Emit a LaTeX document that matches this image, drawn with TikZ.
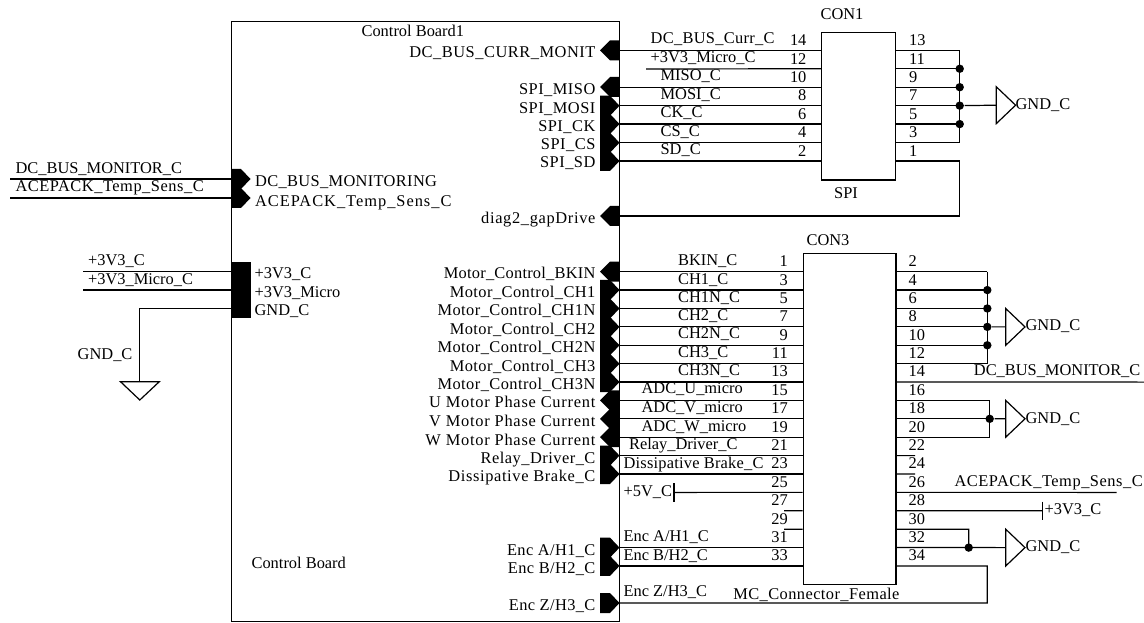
\documentclass[tikz,border=0pt]{standalone}
\usepackage{fontspec}
\setmainfont{Liberation Serif}
\tikzset{
  portin/.pic={\fill (0,0) -- (10,-10) -- (19,-10) -- (19,10) -- (10,10) -- cycle;},
  portout/.pic={\fill (19.5,0) -- (10,-10) -- (0,-10) -- (0,10) -- (10,10) -- cycle;},
  gndr/.pic={\draw (0,-18.4) -- (19.3,0) -- (0,18.4) -- cycle;}
}
\begin{document}
\begin{tikzpicture}[x=0.75pt,y=-0.75pt,line width=0.9pt,
    font=\fontsize{12.3}{14}\selectfont,
    lbl/.style={anchor=mid west,inner sep=0pt,yshift=-1.4pt},
    lblr/.style={anchor=mid east,inner sep=0pt,yshift=-1.4pt},
    spaced/.style={font=\fontsize{12.3}{14}\selectfont\addfontfeature{LetterSpace=#1}},
    box/.style={draw,inner sep=0pt,anchor=north west},
    dot/.style={circle,fill,inner sep=0pt,minimum size=6.3pt}]
    \useasboundingbox (0,0) rectangle (1144,623);

    % boxes
    \node[box,minimum width=291pt,minimum height=450pt] (board) at (231,21) {};
    \node[box,minimum width=55.7pt,minimum height=110.5pt] (con1) at (821,32) {};
    \node[box,minimum width=69.5pt,minimum height=248.2pt] (con3) at (802.7,253.3) {};

    \node[lbl] (boardtitle) at (361,31.5) {Control Board1};
    \node[lbl] (boardname) at (251,564) {Control Board};
    \node (con1name) at (842,14) {CON1};
    \node (spiname) at (846,193) {SPI};
    \node (con3name) at (828,240) {CON3};
    \node[lbl,spaced=2.6] (mcname) at (732.7,595) {MC\_Connector\_Female};

    % pins of CON1
    \foreach \i in {0,...,6} {
        \coordinate (al\i) at (619,{50.3+18.45*\i});
        \coordinate (bl\i) at (821,{50.3+18.45*\i});
        \coordinate (br\i) at (895.3,{50.3+18.45*\i});
        \coordinate (bj\i) at (959.7,{50.3+18.45*\i});
        \pgfmathtruncatemacro{\nl}{14-2*\i}
        \pgfmathtruncatemacro{\nr}{13-2*\i}
        \node[lblr] (bn\nl) at (807,{40.7+18.45*\i}) {\nl};
        \node[lbl] (bn\nr) at (908.5,{40.7+18.45*\i}) {\nr};
        \draw (br\i) -- (bj\i);
    }
    \foreach \i in {0,2,3,4,5,6} \draw (al\i) -- (bl\i);
    \coordinate (al1s) at (646,69);
    \draw (al1s) -- (bl1);
    \draw (bj0) -- (bj5);
    \foreach \i in {1,...,4} \node[dot] (bd\i) at (bj\i) {};
    \coordinate (gnd1) at (996.3,105.2);
    \draw (bd3) -- (gnd1);
    \pic at (gnd1) {gndr};
    \node[lbl] (gnd1t) at (1015,105) {GND\_C};

    % loop back to the diag port
    \coordinate (bk1) at (959.7,216);
    \coordinate (bk2) at (619,216);
    \draw (bj6) -- (bk1) -- (bk2);

    \node[lbl,spaced=1.9] (w39) at (650,39) {DC\_BUS\_Curr\_C};
    \node[lbl] (w58) at (650,58) {+3V3\_Micro\_C};
    \foreach \i/\t in {76/MISO\_C,94.5/MOSI\_C,113/CK\_C,132/CS\_C,150/SD\_C}
        \node[lbl] (w\i) at (660,\i) {\t};

    % ports of the SPI side
    \foreach \y in {50.3,87,216} \pic at (600,\y) {portin};
    \foreach \y in {105.7,124,142.7,161} \pic at (600,\y) {portout};
    \foreach \y/\t/\s in {52.7/DC\_BUS\_CURR\_MONIT/3.2,89.3/SPI\_MISO/3,108.3/SPI\_MOSI/3,126.7/SPI\_CK/3,145/SPI\_CS/3,163/SPI\_SD/3,219/diag2\_gapDrive/4}
        \node[lblr,spaced=\s] (p\y) at (596,\y) {\t};

    % pins of CON3
    \foreach \i in {0,...,16} {
        \coordinate (cl\i) at (619,{271.7+18.39*\i});
        \coordinate (cm\i) at (802.7,{271.7+18.39*\i});
        \coordinate (cr\i) at (895.3,{271.7+18.39*\i});
        \pgfmathtruncatemacro{\nl}{2*\i+1}
        \pgfmathtruncatemacro{\nr}{2*\i+2}
        \node[lblr] (cn\nl) at (788.3,{261.7+18.39*\i}) {\nl};
        \node[lbl] (cn\nr) at (908,{261.7+18.39*\i}) {\nr};
    }
    \foreach \i in {0,...,11,15,16} \draw (cl\i) -- (cm\i);
    \coordinate (tee5) at (674,492.4);
    \coordinate (tee5a) at (674,483.3);
    \coordinate (tee5b) at (674,501.7);
    \draw (tee5) -- (cm12);
    \draw (tee5a) -- (tee5b);
    \node[lbl] (v5) at (623,491.7) {+5V\_C};
    \coordinate (st13) at (784,510.8);
    \coordinate (st14) at (784,529.2);
    \draw (st13) -- (cm13);
    \draw (st14) -- (cm14);

    % right side of CON3
    \foreach \i in {0,...,5} {
        \coordinate (cj\i) at (987.3,{271.7+18.39*\i});
        \draw (cr\i) -- (cj\i);
    }
    \draw (cj0) -- (cj5);
    \foreach \i in {1,...,4} \node[dot] (cd\i) at (cj\i) {};
    \coordinate (gnd2) at (1005.7,326.9);
    \draw (cd3) -- (gnd2);
    \pic at (gnd2) {gndr};
    \node[lbl] (gnd2t) at (1025,326) {GND\_C};

    \coordinate (mon) at (1144,382.1);
    \draw (cr6) -- (mon);
    \node[lbl] (mont) at (973.3,370.7) {DC\_BUS\_MONITOR\_C};

    \foreach \i in {7,8,9} {
        \coordinate (ck\i) at (989.7,{271.7+18.39*\i});
        \draw (cr\i) -- (ck\i);
    }
    \draw (ck7) -- (ck9);
    \node[dot] (cd8) at (ck8) {};
    \coordinate (gnd3) at (1005.7,418.8);
    \draw (cd8) -- (gnd3);
    \pic at (gnd3) {gndr};
    \node[lbl] (gnd3t) at (1025,418.3) {GND\_C};

    \coordinate (st10) at (915,455.6);
    \coordinate (st11) at (915,474);
    \draw (cr10) -- (st10);
    \draw (cr11) -- (st11);
    \coordinate (ace) at (1116.7,492.4);
    \draw (cr12) -- (ace);
    \node[lbl,spaced=3.2] (acet) at (954,482) {ACEPACK\_Temp\_Sens\_C};
    \coordinate (tee3) at (1042.7,510.8);
    \coordinate (tee3a) at (1042.7,501.7);
    \coordinate (tee3b) at (1042.7,520);
    \draw (cr13) -- (tee3);
    \draw (tee3a) -- (tee3b);
    \node[lbl] (v3) at (1044,510) {+3V3\_C};

    \coordinate (cj14) at (968.7,529.2);
    \coordinate (cj15) at (968.7,547.6);
    \draw (cr14) -- (cj14) -- (cj15);
    \node[dot] (cd15) at (cj15) {};
    \coordinate (gnd4) at (1005.7,547.6);
    \draw (cr15) -- (gnd4);
    \pic at (gnd4) {gndr};
    \node[lbl] (gnd4t) at (1025,547) {GND\_C};

    \coordinate (lp1) at (987.3,565.9);
    \coordinate (lp2) at (987.3,603);
    \coordinate (lp3) at (619,603);
    \draw (cr16) -- (lp1) -- (lp2) -- (lp3);

    % wire names of CON3
    \foreach \y/\t in {261/BKIN\_C,279.3/CH1\_C,297.7/CH1N\_C,316/CH2\_C,334/CH2N\_C,353/CH3\_C,371/CH3N\_C}
        \node[lbl] (w\y) at (677.5,\y) {\t};
    \foreach \y/\t in {389/ADC\_U\_micro,408/ADC\_V\_micro,427/ADC\_W\_micro}
        \node[lbl] (w\y) at (641,\y) {\t};
    \node[lbl] (w445) at (628.5,445) {Relay\_Driver\_C};
    \node[lbl,spaced=1.3] (w463) at (623,463.5) {Dissipative Brake\_C};
    \node[lbl] (w537) at (623,537) {Enc A/H1\_C};
    \node[lbl] (w556) at (623,556) {Enc B/H2\_C};
    \node[lbl] (w592) at (623,592) {Enc Z/H3\_C};

    % ports of the motor side
    \foreach \y in {271.7,400.4,418.8,437.2} \pic at (600,\y) {portin};
    \foreach \y in {290,308.5,326.9,345.3,363.7,382,455.6,474,547.6,565.9,603} \pic at (600,\y) {portout};
    \foreach \y/\t/\s in {273.3/Motor\_Control\_BKIN/1.4,292.7/Motor\_Control\_CH1/2.7,310.7/Motor\_Control\_CH1N/2.7,329.7/Motor\_Control\_CH2/2.7,348/Motor\_Control\_CH2N/2.7,367/Motor\_Control\_CH3/2.7,385/Motor\_Control\_CH3N/2.7,403/U Motor Phase Current/4.6,421.7/V Motor Phase Current/4.6,440.7/W Motor Phase Current/4.6,459/Relay\_Driver\_C/3,476.7/Dissipative Brake\_C/3.9}
        \node[lblr,spaced=\s] (q\y) at (596,\y) {\t};
    \node[lblr,spaced=2.4] (q550) at (596,550.7) {Enc A/H1\_C};
    \node[lblr,spaced=2.4] (q569) at (596,569) {Enc B/H2\_C};
    \node[lblr,spaced=2.4] (q605) at (596,605.7) {Enc Z/H3\_C};

    % left side of the board
    \coordinate (m1) at (10,179);
    \coordinate (m2) at (10,198);
    \coordinate (n1) at (231,179);
    \coordinate (n2) at (231,198);
    \draw (m1) -- (n1);
    \draw (m2) -- (n2);
    \pic at (n1) {portout};
    \pic at (n2) {portout};
    \node[lbl] (m1t) at (15,168.3) {DC\_BUS\_MONITOR\_C};
    \node[lbl,spaced=3.2] (m2t) at (15,187) {ACEPACK\_Temp\_Sens\_C};
    \node[lbl,spaced=2.1] (n1t) at (254.5,181.7) {DC\_BUS\_MONITORING};
    \node[lbl,spaced=6] (n2t) at (254.5,201.3) {ACEPACK\_Temp\_Sens\_C};

    \coordinate (s1) at (83,271.7);
    \coordinate (s2) at (83,290);
    \coordinate (t1) at (231,271.7);
    \coordinate (t2) at (231,290);
    \coordinate (t3) at (231,308.3);
    \coordinate (g1) at (139.5,308.3);
    \coordinate (g2) at (139.5,381.7);
    \draw (s1) -- (t1);
    \draw (s2) -- (t2);
    \draw (t3) -- (g1) -- (g2);
    \fill (231,261.7) rectangle (251,318);
    \draw (120.5,381.7) -- (159.3,381.7) -- (139.8,400) -- cycle;
    \node[lbl] (s1t) at (87.5,260.7) {+3V3\_C};
    \node[lbl] (s2t) at (87.5,279.3) {+3V3\_Micro\_C};
    \node[lblr] (g1t) at (133,355) {GND\_C};
    \node[lbl] (t1t) at (254,274) {+3V3\_C};
    \node[lbl] (t2t) at (254,293) {+3V3\_Micro};
    \node[lbl] (t3t) at (254,311) {GND\_C};
\end{tikzpicture}
\end{document}
